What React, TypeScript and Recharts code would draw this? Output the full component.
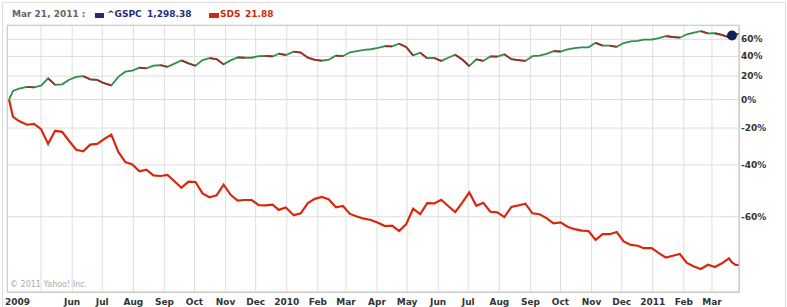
import React from 'react';
import { LineChart, Line, XAxis, YAxis, CartesianGrid, ReferenceDot } from 'recharts';

/* ─── DATA (weekly, % change since start) ─────────────────── */
const dates = [
  '2009-03-30', '2009-04-03', '2009-04-09', '2009-04-17', '2009-04-24', '2009-05-01', '2009-05-08', '2009-05-15',
  '2009-05-22', '2009-05-29', '2009-06-05', '2009-06-12', '2009-06-19', '2009-06-26', '2009-07-02', '2009-07-10',
  '2009-07-17', '2009-07-24', '2009-07-31', '2009-08-07', '2009-08-14', '2009-08-21', '2009-08-28', '2009-09-04',
  '2009-09-11', '2009-09-18', '2009-09-25', '2009-10-02', '2009-10-09', '2009-10-16', '2009-10-23', '2009-10-30',
  '2009-11-06', '2009-11-13', '2009-11-20', '2009-11-27', '2009-12-04', '2009-12-11', '2009-12-18', '2009-12-24',
  '2009-12-31', '2010-01-08', '2010-01-15', '2010-01-22', '2010-01-29', '2010-02-05', '2010-02-12', '2010-02-19',
  '2010-02-26', '2010-03-05', '2010-03-12', '2010-03-19', '2010-03-26', '2010-04-02', '2010-04-09', '2010-04-16',
  '2010-04-23', '2010-04-30', '2010-05-07', '2010-05-14', '2010-05-21', '2010-05-28', '2010-06-04', '2010-06-11',
  '2010-06-18', '2010-06-25', '2010-07-02', '2010-07-09', '2010-07-16', '2010-07-23', '2010-07-30', '2010-08-06',
  '2010-08-13', '2010-08-20', '2010-08-27', '2010-09-03', '2010-09-10', '2010-09-17', '2010-09-24', '2010-10-01',
  '2010-10-08', '2010-10-15', '2010-10-22', '2010-10-29', '2010-11-05', '2010-11-12', '2010-11-19', '2010-11-26',
  '2010-12-03', '2010-12-10', '2010-12-17', '2010-12-23', '2010-12-31', '2011-01-07', '2011-01-14', '2011-01-21',
  '2011-01-28', '2011-02-04', '2011-02-11', '2011-02-18', '2011-02-25', '2011-03-04', '2011-03-11', '2011-03-18',
  '2011-03-21', '2011-03-25', '2011-03-28',
];

const gspcPct = [
  0, 7.0, 8.8, 10.4, 10.0, 11.4, 18.0, 12.1, 12.6, 16.7, 19.4, 20.1, 17.0, 16.6, 13.8, 11.6,
  19.4, 24.3, 25.4, 28.3, 27.5, 30.3, 30.7, 29.1, 32.4, 35.7, 32.6, 30.2, 36.1, 38.1, 37.1, 31.6,
  35.8, 38.9, 38.6, 38.6, 40.4, 40.5, 40.0, 43.0, 41.6, 45.4, 44.3, 38.6, 36.4, 35.4, 36.6, 40.9,
  40.3, 44.6, 46.0, 47.3, 48.1, 49.6, 51.7, 51.4, 54.6, 50.7, 41.1, 44.2, 38.1, 38.3, 35.2, 38.6,
  41.9, 36.7, 29.9, 36.9, 35.2, 40.0, 39.9, 42.4, 37.0, 36.1, 35.2, 40.3, 40.9, 42.9, 45.9, 45.5,
  48.0, 49.4, 50.2, 50.3, 55.7, 52.3, 52.3, 51.0, 55.5, 57.5, 58.0, 59.6, 59.7, 61.5, 64.2, 63.0,
  62.1, 66.5, 68.8, 70.5, 67.6, 67.8, 65.6, 62.4, 64.9, 66.8, 66.4,
];

const sdsPct = [
  0, -12.7, -15.5, -17.9, -17.4, -20.7, -29.3, -21.7, -22.3, -27.7, -32.5, -33.3, -29.7, -29.3, -26.9, -24.0,
  -33.6, -38.7, -39.8, -42.9, -42.2, -44.7, -45.0, -44.5, -47.2, -49.8, -47.4, -47.5, -52.0, -53.4, -52.7, -48.6,
  -52.5, -54.6, -54.4, -54.4, -56.2, -56.3, -56.0, -57.8, -57.0, -59.5, -58.9, -55.5, -54.0, -53.3, -54.2, -56.9,
  -56.5, -59.1, -59.9, -60.6, -61.0, -61.8, -62.8, -62.7, -64.2, -62.3, -57.4, -59.2, -55.5, -55.6, -54.3, -56.5,
  -58.5, -55.3, -51.6, -56.4, -55.4, -58.4, -58.6, -60.1, -56.8, -56.3, -55.7, -58.9, -59.2, -60.4, -62.0, -61.7,
  -63.0, -63.7, -64.1, -64.2, -66.6, -65.1, -65.1, -64.5, -67.0, -67.9, -68.1, -68.7, -68.7, -69.9, -70.9, -70.5,
  -70.1, -72.1, -72.9, -73.4, -72.5, -73.0, -72.2, -71.1, -72.0, -72.6, -72.5,
];

const yTicks = [-60, -40, -20, 0, 20, 40, 60];

const monthTicks = [
  '2009-03-28', '2009-05-01', '2009-06-01', '2009-07-01', '2009-08-01', '2009-09-01', '2009-10-01', '2009-11-01',
  '2009-12-01', '2010-01-01', '2010-02-01', '2010-03-01', '2010-04-01', '2010-05-01', '2010-06-01', '2010-07-01',
  '2010-08-01', '2010-09-01', '2010-10-01', '2010-11-01', '2010-12-01', '2011-01-01', '2011-02-01', '2011-03-01',
];
const monthLabels = [
  '2009', '', 'Jun', 'Jul', 'Aug', 'Sep', 'Oct', 'Nov', 'Dec', '2010', 'Feb', 'Mar', 'Apr', 'May', 'Jun', 'Jul',
  'Aug', 'Sep', 'Oct', 'Nov', 'Dec', '2011', 'Feb', 'Mar',
];

const hoverDate = '2011-03-21';

/* ─── BUILD ROWS ─────────────────────────────────────── */
const ts = (d: string) => Date.parse(d + 'T00:00:00Z');

const rows: any[] = dates.map((d, i) => ({
  t: ts(d),
  g: 1 + gspcPct[i] / 100,
  s: 1 + sdsPct[i] / 100,
  dA: null,
  dB: null,
}));

// falling weeks of ^GSPC drawn red, alternating keys so runs don't bridge
let run = 0;
for (let i = 1; i < rows.length; i++) {
  if (gspcPct[i] < gspcPct[i - 1]) {
    const key = run % 2 === 0 ? 'dA' : 'dB';
    rows[i - 1][key] = rows[i - 1].g;
    rows[i][key] = rows[i].g;
    if (!(i + 1 < rows.length && gspcPct[i + 1] < gspcPct[i])) run++;
  }
}

const hoverIdx = dates.indexOf(hoverDate);
const xTicks = monthTicks.map(ts);
const FONT = '"DejaVu Sans", Verdana, sans-serif';

const XTick = ({ x, y, payload }: any) => {
  const i = xTicks.indexOf(payload.value);
  const label = monthLabels[i] || '';
  const first = i === 0;
  return (
    <text x={first ? x - 2 : x} y={y} dy={11} textAnchor={first ? 'start' : 'middle'}
      fontFamily={FONT} fontSize={9} fontWeight="bold" fill="#333">
      {label}
    </text>
  );
};

const YTick = ({ x, y, payload }: any) => (
  <text x={x} y={y} dy={3} textAnchor="start" fontFamily={FONT} fontSize={9} fontWeight="bold" fill="#333">
    {Math.round((payload.value - 1) * 100)}%
  </text>
);

export default function App() {
  return (
    <div style={{ position: 'absolute', left: 0, top: 0, width: 787, height: 307, background: '#fff', overflow: 'hidden', fontFamily: FONT }}>
      {/* outer frame */}
      <div style={{ position: 'absolute', left: 2, top: 2, width: 782, height: 320, border: '1px solid #dcdcdc' }} />

      {/* header */}
      <div style={{ position: 'absolute', top: 9, left: 0, fontSize: 9, fontWeight: 'bold', lineHeight: '11px', whiteSpace: 'nowrap' }}>
        <span style={{ position: 'absolute', left: 12, color: '#666' }}>Mar 21, 2011 :</span>
        <span style={{ position: 'absolute', left: 95, top: 4, width: 9, height: 5, background: '#1f2f78' }} />
        <span style={{ position: 'absolute', left: 107, color: '#1f2f78' }}>^GSPC</span>
        <span style={{ position: 'absolute', left: 147, color: '#1f2f78' }}>1,298.38</span>
        <span style={{ position: 'absolute', left: 209, top: 4, width: 10, height: 5, background: '#cc2a10' }} />
        <span style={{ position: 'absolute', left: 220, color: '#cc2a10' }}>SDS</span>
        <span style={{ position: 'absolute', left: 245, color: '#cc2a10' }}>21.88</span>
      </div>

      <div style={{ position: 'absolute', left: 0, top: 0 }}>
        <LineChart width={787} height={307} data={rows} margin={{ top: 25, right: 0, bottom: 0, left: 7 }}>
          <CartesianGrid stroke="#dedede" ticks={xTicks as any} />
          <XAxis dataKey="t" type="number" scale="linear" domain={[ts('2009-03-28'), ts('2011-03-28')]}
            ticks={xTicks} interval={0} height={15} tickSize={0} tickMargin={2}
            axisLine={{ stroke: '#c8c8c8' }} tickLine={false} tick={<XTick />} allowDataOverflow />
          <YAxis orientation="right" width={48} scale="log" domain={[0.2222, 1.79]} allowDataOverflow
            ticks={yTicks.map(p => 1 + p / 100)} interval={0} tickSize={0} tickMargin={2}
            axisLine={{ stroke: '#c8c8c8' }} tickLine={false} tick={<YTick />} />
          <Line dataKey="s" stroke="#d8280c" strokeWidth={2.2} dot={false} isAnimationActive={false} />
          <Line dataKey="g" stroke="#2f8e4a" strokeWidth={1.8} dot={false} isAnimationActive={false} />
          <Line dataKey="dA" stroke="#a02c2a" strokeWidth={1.8} dot={false} connectNulls={false} isAnimationActive={false} />
          <Line dataKey="dB" stroke="#a02c2a" strokeWidth={1.8} dot={false} connectNulls={false} isAnimationActive={false} />
          <ReferenceDot x={rows[hoverIdx].t} y={rows[hoverIdx].g} r={5} fill="#13205e" stroke="none" />
        </LineChart>
      </div>

      {/* plot border */}
      <div style={{ position: 'absolute', left: 7, top: 25, width: 731, height: 266, border: '1px solid #cfcfcf', pointerEvents: 'none' }} />

      <div style={{ position: 'absolute', left: 10, top: 280, fontSize: 8, color: '#aaa', fontFamily: FONT, whiteSpace: 'nowrap' }}>
        © 2011 Yahoo! Inc.
      </div>
    </div>
  );
}
